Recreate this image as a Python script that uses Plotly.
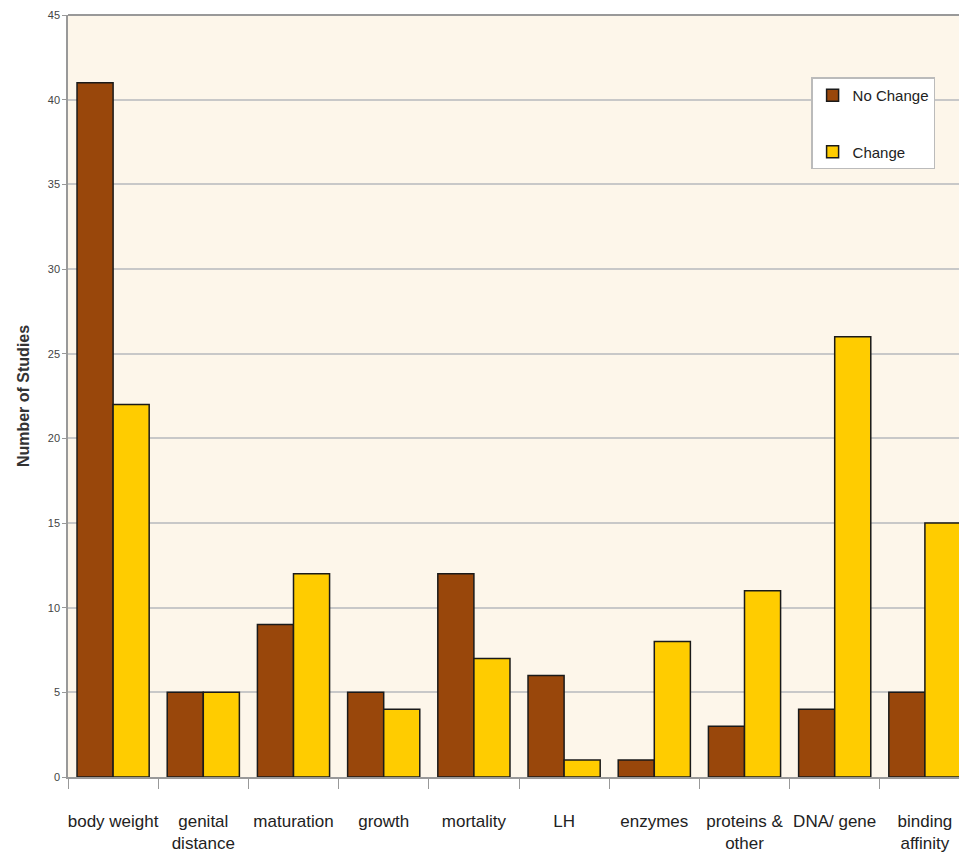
import plotly.graph_objects as go

categories = ["body weight", "genital<br>distance", "maturation", "growth", "mortality",
              "LH", "enzymes", "proteins &<br>other", "DNA/ gene", "binding<br>affinity"]
no_change = [41, 5, 9, 5, 12, 6, 1, 3, 4, 5]
change = [22, 5, 12, 4, 7, 1, 8, 11, 26, 15]
y_ticks = [0, 5, 10, 15, 20, 25, 30, 35, 40, 45]

FONT = "Liberation Sans Narrow, Arial Narrow, Liberation Sans, Arial, sans-serif"

fig = go.Figure()
fig.add_trace(go.Bar(
    x=categories, y=no_change, name="No Change", legendgroup="a",
    marker=dict(color="#99470B", line=dict(color="#1a1a1a", width=1.5)),
))
fig.add_trace(go.Bar(
    x=categories, y=change, name="Change", legendgroup="b",
    marker=dict(color="#FFCC00", line=dict(color="#1a1a1a", width=1.5)),
))

fig.update_layout(
    width=959, height=863,
    margin=dict(l=68, r=0, t=15, b=86),
    paper_bgcolor="white",
    plot_bgcolor="#FDF6EA",
    barmode="group",
    bargap=0.2,
    bargroupgap=0,
    font=dict(family=FONT, color="#333333"),
    showlegend=True,
    legend=dict(
        x=0.834, y=0.918, xanchor="left", yanchor="top",
        bgcolor="white", bordercolor="#BBBBBB", borderwidth=1.5,
        font=dict(size=15, family=FONT, color="#222222"),
        traceorder="grouped", tracegroupgap=34,
        itemwidth=30,
    ),
    xaxis=dict(
        type="category",
        range=[-0.5, 9.378],
        automargin=False, tickangle=0,
        showgrid=False, zeroline=False,
        showline=True, linecolor="#999999", linewidth=1.5,
        ticks="outside", tickson="boundaries", ticklen=10, tickcolor="#999999", tickwidth=1,
        tickfont=dict(size=17, family=FONT, color="#222222"),
        ticklabelstandoff=28,
    ),
    yaxis=dict(
        range=[0, 45], tickvals=y_ticks,
        automargin=False,
        showgrid=True, gridcolor="#C8C8C8", gridwidth=1.5,
        zeroline=False,
        showline=True, linecolor="#999999", linewidth=1.5,
        ticks="outside", ticklen=4, tickcolor="#999999",
        tickfont=dict(size=11, family=FONT, color="#444444"),
        title=dict(text="<b>Number of Studies</b>", standoff=14,
                   font=dict(size=16, family="Liberation Sans, Arial, sans-serif", color="#333333")),
    ),
)
fig.add_shape(type="line", xref="paper", yref="paper", x0=0, x1=1, y0=1, y1=1,
              line=dict(color="#999999", width=2))

fig.write_html("out.html")
